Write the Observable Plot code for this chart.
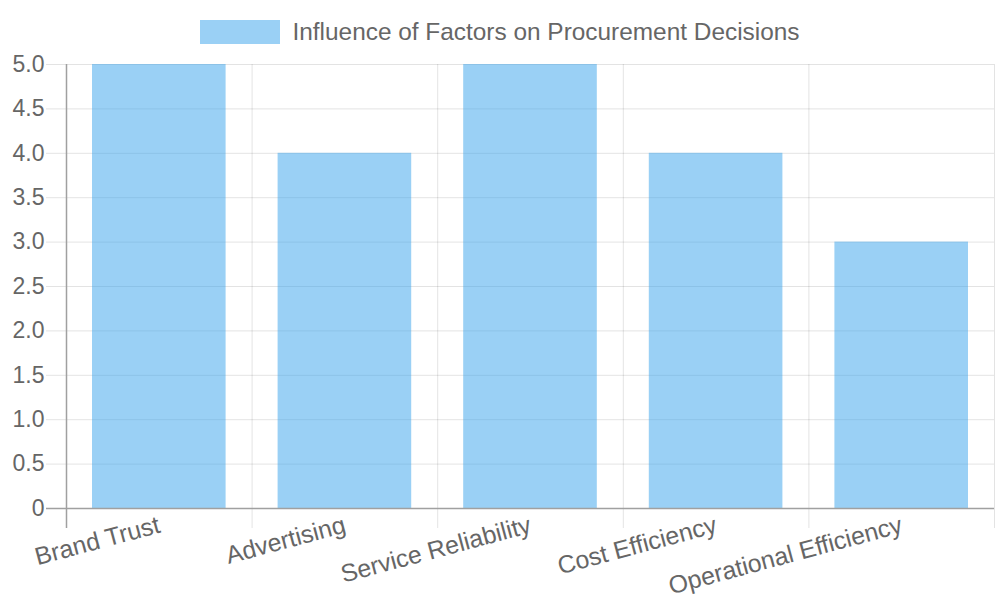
<!DOCTYPE html>
<html><head><meta charset="utf-8">
<script src="https://cdn.jsdelivr.net/npm/d3@7"></script>
<script src="https://cdn.jsdelivr.net/npm/@observablehq/plot@0.6"></script>
<style>
html,body{margin:0;padding:0;background:#fff;}
body{font-family:"Liberation Sans",Arial,Helvetica,sans-serif;width:1000px;}
#legend{height:52px;display:flex;justify-content:center;align-items:flex-start;box-sizing:border-box;padding-top:20px;}
#legend .box{display:inline-block;width:80px;height:24px;background:rgba(54,162,235,0.5);}
#legend .lbl{margin-left:12px;font-size:24.4px;color:#666;line-height:24px;}
#chart svg{overflow:visible;display:block;}
</style></head><body>
<div id="legend"><span class="box"></span><span class="lbl">Influence of Factors on Procurement Decisions</span></div>
<div id="chart"></div>
<script>
const categories = ["Brand Trust","Advertising","Service Reliability","Cost Efficiency","Operational Efficiency"];
const values = [5,4,5,4,3];
const yTicks = [0,0.5,1,1.5,2,2.5,3,3.5,4,4.5,5];
const seriesLabel = "Influence of Factors on Procurement Decisions";

const data = categories.map((c,i)=>({category:c, value:values[i]}));

const W = 1000, H = 548, ML = 66, MR = 6, MT = 12, MB = 92;
const bw = (W - ML - MR) / categories.length;
const grid = "rgba(0,0,0,0.11)";
const axisCol = "#a0a0a0";

const chart = Plot.plot({
  width: W, height: H,
  marginLeft: ML, marginRight: MR, marginTop: MT, marginBottom: MB,
  style: {fontFamily: '"Liberation Sans",Arial,sans-serif', color: "#666", background: "#fff"},
  x: {type: "band", domain: categories, padding: 0, round: false, label: null},
  y: {domain: [0,5], ticks: yTicks, label: null},
  marks: [
    Plot.ruleY(yTicks, {stroke: grid, strokeWidth: 1, insetLeft: -20}),
    Plot.ruleX(categories, {x: d=>d, dx: -bw/2, stroke: grid, insetBottom: -20}),
    Plot.ruleX([categories[categories.length-1]], {x: d=>d, dx: bw/2, stroke: grid, insetBottom: -20}),
    Plot.barY(data, {x: "category", y: "value", fill: "rgba(54,162,235,0.5)", insetLeft: 26, insetRight: 26}),
    Plot.ruleY([0], {stroke: axisCol, strokeWidth: 1.5, insetLeft: -20}),
    Plot.ruleX([categories[0]], {x: d=>d, dx: -bw/2, stroke: axisCol, strokeWidth: 1.5, insetBottom: -20}),
    Plot.axisY({ticks: yTicks, tickFormat: d => d === 0 ? "0" : d.toFixed(1), tickSize: 0, tickPadding: 22, fontSize: 23, fill: "#666", label: null}),
    Plot.axisX({tickSize: 0, tickPadding: 16, tickRotate: -15, fontSize: 24.8, fill: "#666", label: null})
  ]
});
document.getElementById("chart").appendChild(chart);
</script>
</body></html>
